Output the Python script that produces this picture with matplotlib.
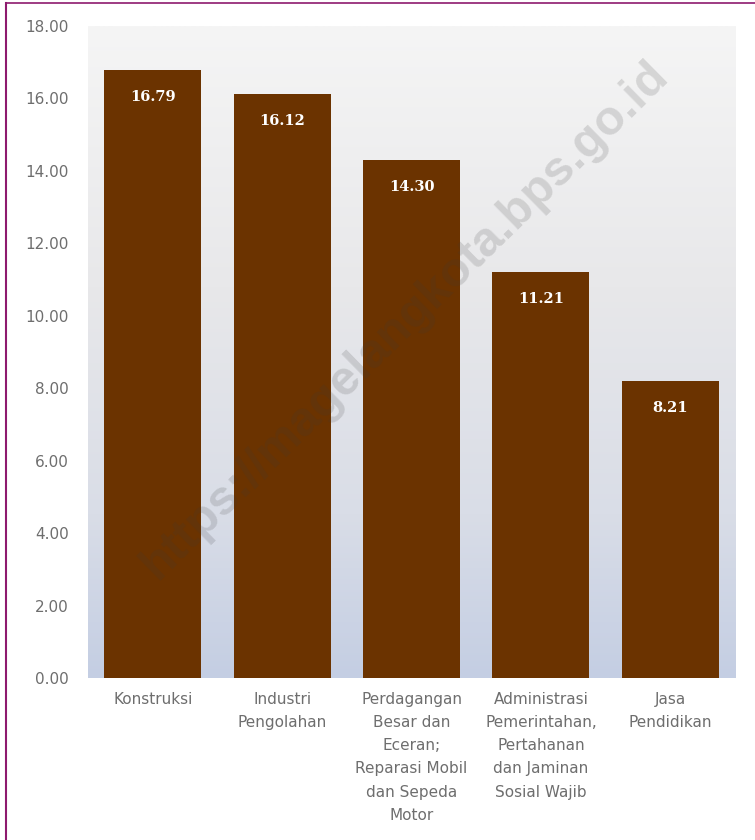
import matplotlib
matplotlib.use('agg')
import matplotlib.pyplot as plt
import numpy as np
from matplotlib import colors
from matplotlib.lines import Line2D

categories = ['Konstruksi', 'Industri\nPengolahan',
              'Perdagangan\nBesar dan\nEceran;\nReparasi Mobil\ndan Sepeda\nMotor',
              'Administrasi\nPemerintahan,\nPertahanan\ndan Jaminan\nSosial Wajib',
              'Jasa\nPendidikan']
values = [16.79, 16.12, 14.30, 11.21, 8.21]
yticks = [0, 2, 4, 6, 8, 10, 12, 14, 16, 18]

bar_color = '#6b3300'
text_gray = '#6e6e6e'

fig = plt.figure(figsize=(7.55, 8.4), dpi=100)
ax = fig.add_axes([88/755, 1-678/840, 647/755, (678-26)/840])

# gradient background of the plot area
cmap = colors.LinearSegmentedColormap.from_list(
    'bg', [(0.0, '#c4cee3'), (0.25, '#d9dde7'), (0.6, '#e8e8ea'), (1.0, '#f5f5f5')])
grad = np.linspace(0, 1, 256).reshape(-1, 1)
ax.imshow(grad, extent=[-0.5, 4.5, 0, 18], origin='lower', cmap=cmap,
          aspect='auto', zorder=0)

x = np.arange(len(categories))
ax.bar(x, values, width=0.75, color=bar_color, zorder=2)

for xi, v in zip(x, values):
    ax.text(xi, v - 0.55, '%.2f' % v, ha='center', va='top', color='white',
            fontsize=10.5, fontweight='bold', family='DejaVu Serif', zorder=3)

ax.set_xlim(-0.5, 4.5)
ax.set_ylim(0, 18)
ax.set_yticks(yticks)
ax.set_yticklabels(['%.2f' % t for t in yticks], color=text_gray, fontsize=11)
ax.set_xticks(x)
ax.set_xticklabels(categories, color=text_gray, fontsize=11, linespacing=1.68, va='top')
ax.tick_params(axis='both', length=0)
ax.tick_params(axis='y', pad=14)
ax.tick_params(axis='x', pad=10)
for s in ax.spines.values():
    s.set_visible(False)

# watermark
fig.text(0.536, 0.619, 'https://magelangkota.bps.go.id', rotation=44.5,
         ha='center', va='center', fontsize=35, fontweight='bold',
         family='Liberation Sans', color='#3a3a3a', alpha=0.16, zorder=10)

# frame lines on left and top
fig.add_artist(Line2D([6/755, 6/755], [0, 1-3/840], color='#8e1a6e', lw=1.5,
                      transform=fig.transFigure))
fig.add_artist(Line2D([6/755, 1], [1-3/840, 1-3/840], color='#8e1a6e', lw=1.2,
                      transform=fig.transFigure))

fig.savefig('out.png', dpi=100)
